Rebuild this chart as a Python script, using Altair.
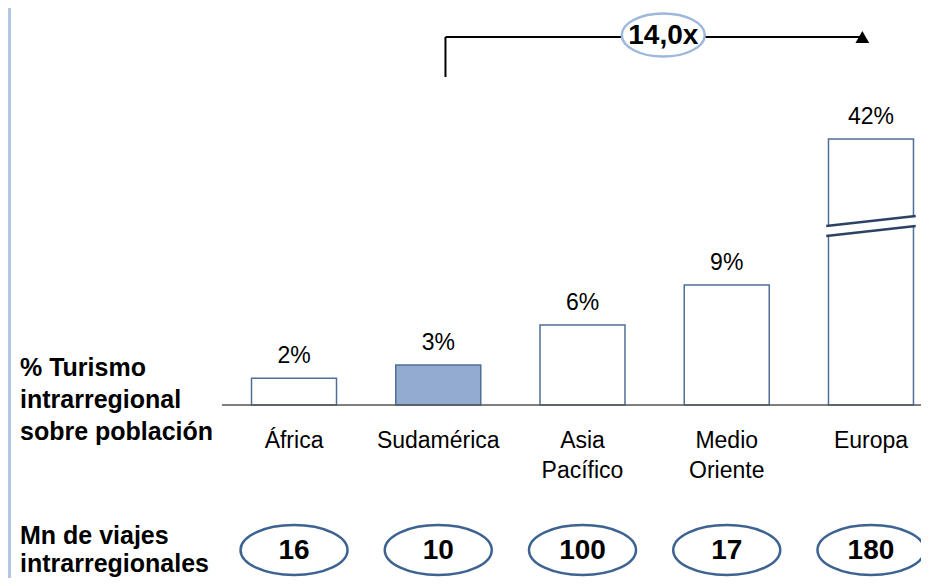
import altair as alt
import pandas as pd

# ---------------- data ----------------
regions = ["África", "Sudamérica", "Asia\nPacífico", "Medio\nOriente", "Europa"]
pct = [2, 3, 6, 9, 42]            # % turismo intrarregional sobre población
trips = [16, 10, 100, 17, 180]    # Mn de viajes intrarregionales
highlight = "Sudamérica"
left_label_top = "% Turismo\nintrarregional\nsobre población"
left_label_bottom = "Mn de viajes\nintrarregionales"

ratio = pct[4] / pct[1]
ratio_label = f"{ratio:.1f}".replace(".", ",") + "x"

FONT = "Liberation Sans"
W, H = 913, 570

df = pd.DataFrame({"i": list(range(len(regions))), "region": regions,
                   "pct": pct, "trips": trips})
df["pct_label"] = [f"{p}%" for p in pct]

# scales: categories by index, y with an axis break (piecewise linear)
xs = alt.Scale(domain=[-0.5, 4.5], range=[213.9, 935.1], nice=False, zero=False, padding=0)
ys = alt.Scale(domain=[0, 15, 42], range=[397, 197, 131], nice=False, zero=False, padding=0)
X = alt.X("i:Q", scale=xs, axis=None)
Y = alt.Y("pct:Q", scale=ys, axis=None)

BAR_C = "#4f6f98"
ELL_C = "#3d6391"

ell_bottom = ("M -1 0 C -1 -0.26 -0.552 -0.467 0 -0.467 C 0.552 -0.467 1 -0.26 1 0 "
              "C 1 0.26 0.552 0.467 0 0.467 C -0.552 0.467 -1 0.26 -1 0 Z")
ell_top = ("M -1 0 C -1 -0.287 -0.552 -0.52 0 -0.52 C 0.552 -0.52 1 -0.287 1 0 "
           "C 1 0.287 0.552 0.52 0 0.52 C -0.552 0.52 -1 0.287 -1 0 Z")

one = pd.DataFrame({"a": [0]})

border = alt.Chart(one).mark_rule(color="#b3c7e3", strokeWidth=3).encode(
    x=alt.value(1.5), y=alt.value(0), y2=alt.value(H))

bars = alt.Chart(df).mark_bar(size=85, stroke=BAR_C, strokeWidth=1.5).encode(
    x=X, y=Y,
    fill=alt.condition(alt.datum.region == highlight,
                       alt.value("#94abd0"), alt.value("white")))

# axis break on the tallest bar
eu = df["i"].iloc[-1]
brk = pd.DataFrame({
    "x0": [eu - 0.31] * 3, "x1": [eu + 0.31] * 3,
    "y0": [12.68, 13.05, 13.43], "y1": [13.43, 13.8, 14.18],
    "kind": ["line", "gap", "line"],
})
brk_gap = alt.Chart(brk).transform_filter("datum.kind == 'gap'").mark_rule(
    color="white", strokeWidth=8).encode(
    x=alt.X("x0:Q", scale=xs, axis=None), x2="x1:Q",
    y=alt.Y("y0:Q", scale=ys, axis=None), y2="y1:Q")
brk_lines = alt.Chart(brk).transform_filter("datum.kind == 'line'").mark_rule(
    color="#2c4263", strokeWidth=2.5).encode(
    x=alt.X("x0:Q", scale=xs, axis=None), x2="x1:Q",
    y=alt.Y("y0:Q", scale=ys, axis=None), y2="y1:Q")

base = pd.DataFrame({"x0": [-0.5], "x1": [4.5], "y": [0]})
baseline = alt.Chart(base).mark_rule(color="#555555", strokeWidth=1.5).encode(
    x=alt.X("x0:Q", scale=xs, axis=None), x2="x1:Q",
    y=alt.Y("y:Q", scale=ys, axis=None))

pct_text = alt.Chart(df).mark_text(dy=-15, baseline="alphabetic", fontSize=23,
                                   font=FONT, color="black").encode(
    x=X, y=Y, text="pct_label:N")

cat_text = alt.Chart(df).mark_text(baseline="alphabetic", fontSize=23, font=FONT,
                                   lineBreak="\n", lineHeight=30,
                                   color="black").encode(
    x=X, y=alt.value(440), text="region:N")

trip_ell = alt.Chart(df).mark_point(shape=ell_bottom, size=107 ** 2, filled=False,
                                    color=ELL_C, strokeWidth=2.5, opacity=1).encode(
    x=X, y=alt.value(542))
trip_text = alt.Chart(df).mark_text(baseline="middle", fontSize=28, fontWeight="bold",
                                    font=FONT, color="black").encode(
    x=X, y=alt.value(543), text="trips:Q")

# bracket from Sudamérica to Europa
brk_pts = pd.DataFrame({"x0": [1.05], "x1": [3.94], "xm": [2.56], "lab": [ratio_label]})
br_h = alt.Chart(brk_pts).mark_rule(color="black", strokeWidth=2).encode(
    x=alt.X("x0:Q", scale=xs, axis=None), x2="x1:Q", y=alt.value(29))
br_v = alt.Chart(brk_pts).mark_rule(color="black", strokeWidth=2).encode(
    x=alt.X("x0:Q", scale=xs, axis=None), y=alt.value(29), y2=alt.value(69))
br_arrow = alt.Chart(brk_pts).mark_point(shape="triangle-up", size=190, filled=True,
                                         color="black", opacity=1).encode(
    x=alt.X("x1:Q", scale=xs, axis=None), y=alt.value(29))
br_ell = alt.Chart(brk_pts).mark_point(shape=ell_top, size=83 ** 2, filled=True,
                                       fill="white", stroke="#9db8dc", strokeWidth=2.5,
                                       opacity=1).encode(
    x=alt.X("xm:Q", scale=xs, axis=None), y=alt.value(27))
br_text = alt.Chart(brk_pts).mark_text(baseline="middle", fontSize=28, fontWeight="bold",
                                       font=FONT, color="black").encode(
    x=alt.X("xm:Q", scale=xs, axis=None), y=alt.value(28), text="lab:N")

lt = pd.DataFrame({"t": [left_label_top]})
lb = pd.DataFrame({"t": [left_label_bottom]})
left_top = alt.Chart(lt).mark_text(align="left", baseline="alphabetic", fontSize=25,
                                   fontWeight="bold", font=FONT, lineBreak="\n",
                                   lineHeight=32, color="black").encode(
    x=alt.value(12), y=alt.value(368), text="t:N")
left_bottom = alt.Chart(lb).mark_text(align="left", baseline="alphabetic", fontSize=25,
                                      fontWeight="bold", font=FONT, lineBreak="\n",
                                      lineHeight=28, color="black").encode(
    x=alt.value(12), y=alt.value(536), text="t:N")

chart = alt.layer(
    border, bars, brk_gap, brk_lines, baseline, pct_text, cat_text,
    trip_ell, trip_text, br_h, br_v, br_arrow, br_ell, br_text,
    left_top, left_bottom,
).properties(
    width=W, height=H, autosize=alt.AutoSizeParams(type="none"), padding=0,
    background="white",
).configure_view(strokeWidth=0)

chart.save("out.html", embed_options={"renderer": "svg", "actions": False})
